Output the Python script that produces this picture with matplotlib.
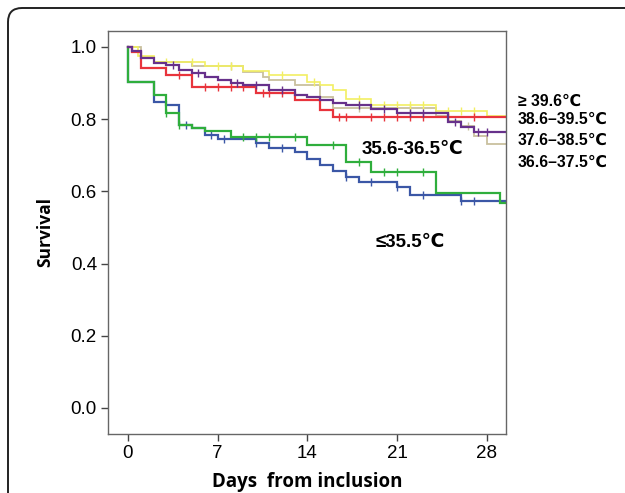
import matplotlib
matplotlib.use("Agg")
import matplotlib.pyplot as plt
import matplotlib.patches as mpatches
import numpy as np

plt.rcParams['font.family'] = ['Liberation Sans', 'DejaVu Sans']

# Kaplan-Meier steps: (day of drop, survival after drop)
blue_t = [0, 2, 3, 4, 5, 6, 7, 10, 11, 13, 14, 15, 16, 17, 18, 21, 22, 26]
blue_s = [0.904, 0.848, 0.839, 0.784, 0.775, 0.756, 0.745, 0.733, 0.721, 0.71,
          0.69, 0.672, 0.657, 0.64, 0.627, 0.613, 0.59, 0.573]
blue_c = [4.5, 6.5, 7.5, 10, 12, 17, 19, 21, 23, 26, 27]

green_t = [0, 2, 3, 4, 5, 6, 8, 14, 17, 19, 24, 29]
green_s = [0.904, 0.867, 0.818, 0.784, 0.775, 0.766, 0.75, 0.729, 0.68, 0.653,
           0.596, 0.569]
green_c = [3, 4, 9, 10, 11, 13, 16, 18, 20, 21, 23]

red_t = [0.3, 1, 3, 5, 10, 13, 15, 16]
red_s = [0.985, 0.941, 0.922, 0.89, 0.873, 0.853, 0.826, 0.805]
red_c = [4, 6, 7, 8, 9, 10.5, 11, 12, 16.5, 17, 19, 20, 21, 22, 23, 25, 27]

purple_t = [0.3, 1, 2, 3, 4, 5, 6, 7, 8, 9, 11, 13, 14, 15, 16, 17, 19, 21, 25, 26, 27]
purple_s = [0.99, 0.969, 0.955, 0.95, 0.936, 0.927, 0.918, 0.907, 0.9, 0.895,
            0.88, 0.867, 0.862, 0.853, 0.844, 0.839, 0.827, 0.816, 0.793, 0.779, 0.765]
purple_c = [3.5, 5.5, 8.5, 10, 12, 18, 20, 22, 23, 25.5, 27.3, 28]

tan_t = [1, 2, 5, 9, 10.5, 11, 13, 15, 16, 24, 25, 26, 27, 28]
tan_s = [0.973, 0.958, 0.947, 0.93, 0.918, 0.907, 0.895, 0.862, 0.83, 0.81,
         0.795, 0.78, 0.752, 0.73]
tan_c = [8, 18, 22, 26.5]

yellow_t = [0.8, 2, 6, 9, 11, 14, 15, 16, 17, 19, 24, 28]
yellow_s = [0.975, 0.958, 0.948, 0.932, 0.922, 0.904, 0.895, 0.88, 0.856, 0.84,
            0.822, 0.81]
yellow_c = [3, 5, 7, 8, 12, 14.5, 18, 20, 21, 22, 23, 25, 26, 27]

x_ticks = [0, 7, 14, 21, 28]
y_ticks = [0.0, 0.2, 0.4, 0.6, 0.8, 1.0]
t_end = 29.5


def km(ax, t, s, cens, color, lw):
    tt = np.concatenate([[0], t, [t_end]])
    ss = np.concatenate([[1.0], s, [s[-1]]])
    ax.step(tt, ss, where='post', color=color, lw=lw, solid_joinstyle='miter')
    idx = np.searchsorted(tt, cens, side='right') - 1
    ax.plot(cens, ss[idx], ls='none', marker='|', ms=6, mew=1.0, color=color)


fig = plt.figure(figsize=(6.25, 4.93), dpi=100)
ax = fig.add_axes([0.1728, 0.1197, 0.6368, 0.8174])

km(ax, tan_t, tan_s, tan_c, '#c9c09e', 1.3)
km(ax, yellow_t, yellow_s, yellow_c, '#f2ef62', 1.2)
km(ax, blue_t, blue_s, blue_c, '#3b57a6', 1.6)
km(ax, green_t, green_s, green_c, '#2fae3c', 1.6)
km(ax, red_t, red_s, red_c, '#e8343c', 1.6)
km(ax, purple_t, purple_s, purple_c, '#67318b', 1.6)

ax.set_xlim(-1.56, 29.5)
ax.set_ylim(-0.072, 1.044)
ax.set_xticks(x_ticks)
ax.set_yticks(y_ticks)
ax.set_yticklabels([f'{v:.1f}' for v in y_ticks])
ax.tick_params(direction='out', length=5, width=1, color='#444444',
               labelsize=13.5, pad=3)
for sp in ax.spines.values():
    sp.set_color('#666666')
    sp.set_linewidth(1.0)

ax.set_xlabel('Days  from inclusion', fontsize=13.5, fontweight='bold',
              family=['Open Sans', 'DejaVu Sans'], labelpad=7)
ax.set_ylabel('Survival', fontsize=12.5, fontweight='bold',
              family=['Open Sans', 'DejaVu Sans'], labelpad=12)

ax.text(18.2, 0.715, '35.6-36.5℃', fontsize=13.5, fontweight='bold', va='center')
ax.text(19.3, 0.457, '≤35.5℃', fontsize=13.5, fontweight='bold', va='center')
right_labels = ['≥ 39.6℃', '38.6–39.5℃', '37.6–38.5℃', '36.6–37.5℃']
right_y = [0.850, 0.800, 0.740, 0.681]
for lab, yy in zip(right_labels, right_y):
    ax.text(30.4, yy, lab, fontsize=11.3, fontweight='bold', va='center',
            clip_on=False)

# rounded outer frame, cut by the right and bottom edges
frame = mpatches.FancyBboxPatch((8, -40), 660, 525, transform=None,
                                boxstyle='round,pad=0,rounding_size=14',
                                fill=False, ec='#222222', lw=1.4)
fig.patches.append(frame)

fig.savefig('out.png', dpi=100)
